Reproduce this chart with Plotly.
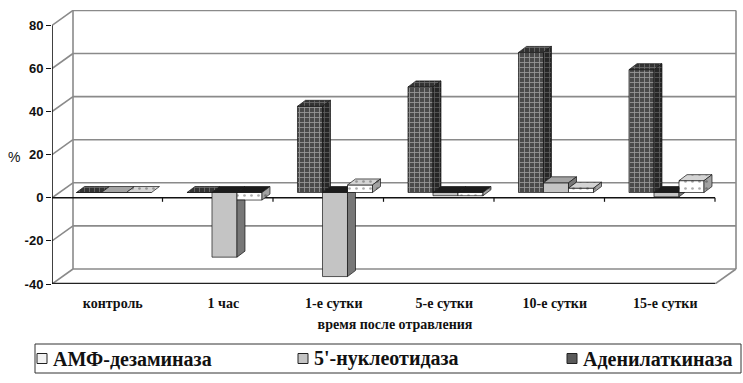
import plotly.graph_objects as go

# ---- data -------------------------------------------------------------
categories = ["контроль", "1 час", "1-е сутки", "5-е сутки", "10-е сутки", "15-е сутки"]
adenylate_kinase = [0, 0, 40, 49, 65, 57]
nucleotidase_5 = [0, -30, -39, -1.5, 4.5, -2]
amp_deaminase = [0, -3.5, 3.5, -1.5, 2, 5.5]
y_ticks = [-40, -20, 0, 20, 40, 60, 80]
series_names = ["Аденилаткиназа", "5'-нуклеотидаза", "АМФ-дезаминаза"]
series_values = [adenylate_kinase, nucleotidase_5, amp_deaminase]

SERIF = "Liberation Serif, Times New Roman, Times, serif"
SANS = "Liberation Sans, Arial, Helvetica, sans-serif"

# ---- pseudo-3D geometry (axis units) -----------------------------------
N = len(categories)
PX_PER_CAT = 110.5
PX_PER_UNIT = 2.155
WALL_DX = 21 / PX_PER_CAT          # depth of the back wall
WALL_DY = 15 / PX_PER_UNIT
BAR_W = 25 / PX_PER_CAT            # front-face width of one column
BAR_SHIFT = 0.061                  # columns sit part way into the depth
BAR_BASE = 5.3 / PX_PER_UNIT
BAR_DX = 8 / PX_PER_CAT            # column depth
BAR_DY = 6 / PX_PER_UNIT
SLOPE = BAR_DY / BAR_DX

Y_MIN, Y_MAX = y_ticks[0], y_ticks[-1]

# plot area in pixels
ML, MR, MT, MB = 52, 5, 10, 99
W_FIG, H_FIG = 743, 383
PLOT_W = W_FIG - ML - MR
PLOT_H = H_FIG - MT - MB
X_RANGE = [0, PLOT_W / PX_PER_CAT]
Y_RANGE = [Y_MIN, Y_MIN + PLOT_H / PX_PER_UNIT]


def px_to_paper(px, py):
    return (px - ML) / PLOT_W, (H_FIG - MB - py) / PLOT_H


# ---- styles -------------------------------------------------------------
OUTLINE = "#151515"
NEG_TOP = "#1c1c1c"
styles = [
    dict(  # adenylate kinase: dark checkered
        front=dict(shape="+", bgcolor="#4a4a4a", fgcolor="#e2e2e2", size=5, solidity=0.32),
        top=dict(shape="+", bgcolor="#333333", fgcolor="#a8a8a8", size=5, solidity=0.3),
        side=dict(shape="+", bgcolor="#262626", fgcolor="#909090", size=5, solidity=0.3),
    ),
    dict(  # 5'-nucleotidase: plain grey
        front=dict(shape="", bgcolor="#c4c4c4"),
        top=dict(shape="", bgcolor="#a4a4a4"),
        side=dict(shape="", bgcolor="#777777"),
    ),
    dict(  # AMP deaminase: white with dots
        front=dict(shape=".", bgcolor="#ffffff", fgcolor="#5a5a5a", size=7, solidity=0.12),
        top=dict(shape=".", bgcolor="#d4d4d4", fgcolor="#555555", size=7, solidity=0.12),
        side=dict(shape=".", bgcolor="#a2a2a2", fgcolor="#444444", size=7, solidity=0.12),
    ),
]

fig = go.Figure()

# front faces of the columns
for k, (name, vals) in enumerate(zip(series_names, series_values)):
    st = styles[k]["front"]
    xs = [i + 0.5 + BAR_SHIFT + (k - 1) * BAR_W for i in range(N)]
    fig.add_trace(go.Bar(
        x=xs, y=vals, base=BAR_BASE, width=BAR_W, name=name,
        marker=dict(
            color=st["bgcolor"],
            line=dict(color=OUTLINE, width=0.7),
            pattern=dict(shape=st["shape"], bgcolor=st["bgcolor"],
                         fgcolor=st.get("fgcolor", st["bgcolor"]),
                         size=st.get("size", 8), solidity=st.get("solidity", 0.3)),
        ),
        showlegend=False, hoverinfo="skip",
    ))


def face(points, st, color=None):
    xs = [p[0] for p in points] + [points[0][0]]
    ys = [p[1] for p in points] + [points[0][1]]
    pat = None
    if color is not None:
        fc = color
    else:
        fc = st["bgcolor"]
        if st["shape"]:
            pat = dict(shape=st["shape"], bgcolor=st["bgcolor"], fgcolor=st["fgcolor"],
                       size=st["size"], solidity=st["solidity"])
    tr = go.Scatter(x=xs, y=ys, mode="lines", fill="toself", fillcolor=fc,
                    line=dict(color=OUTLINE, width=0.7),
                    showlegend=False, hoverinfo="skip")
    if pat:
        tr.fillpattern = pat
    fig.add_trace(tr)


# top and side faces, clipped where the next column hides them
for i in range(N):
    vals = [s[i] for s in series_values]
    lo = [BAR_BASE + min(v, 0) for v in vals]
    hi = [BAR_BASE + max(v, 0) for v in vals]
    for k in range(3):
        x0 = i + 0.5 + BAR_SHIFT + (k - 1.5) * BAR_W
        x1 = x0 + BAR_W
        # top face
        c = hi[k]
        if k < 2 and hi[k + 1] > hi[k]:
            c = min(hi[k + 1], hi[k] + BAR_DY)
        top = [(x0, hi[k]), (x1, hi[k]), (x1, c),
               (x1 + (hi[k] + BAR_DY - c) / SLOPE, hi[k] + BAR_DY),
               (x0 + BAR_DX, hi[k] + BAR_DY)]
        if vals[k] < 0:
            face(top, None, color=NEG_TOP)
        else:
            face(top, styles[k]["top"])
        # side face
        if hi[k] - lo[k] <= 1e-9:
            continue
        st = styles[k]["side"]
        if k == 2:
            face([(x1, lo[k]), (x1, hi[k]), (x1 + BAR_DX, hi[k] + BAR_DY),
                  (x1 + BAR_DX, lo[k] + BAR_DY)], st)
            continue
        if hi[k] > hi[k + 1]:
            c2 = max(hi[k + 1], lo[k])
            face([(x1, c2), (x1, hi[k]), (x1 + BAR_DX, hi[k] + BAR_DY),
                  (x1 + BAR_DX, c2 + BAR_DY)], st)
        if lo[k] < lo[k + 1]:
            c3 = min(lo[k + 1], hi[k])
            if c3 - lo[k] >= BAR_DY:
                face([(x1, lo[k]), (x1, c3), (x1 + BAR_DX, c3),
                      (x1 + BAR_DX, lo[k] + BAR_DY)], st)
            else:
                face([(x1, lo[k]), (x1, c3),
                      (x1 + (c3 - lo[k]) / SLOPE, c3)], st)

# ---- walls, gridlines and axis lines --------------------------------------
shapes = []
GRID = dict(color="#8a8a8a", width=1.6)
for v in y_ticks:
    shapes.append(dict(type="line", layer="below", x0=WALL_DX, x1=N + WALL_DX,
                       y0=v + WALL_DY, y1=v + WALL_DY, line=GRID))
    shapes.append(dict(type="line", layer="below", x0=0, x1=WALL_DX,
                       y0=v, y1=v + WALL_DY, line=GRID))
shapes.append(dict(type="line", layer="below", x0=WALL_DX, x1=WALL_DX,
                   y0=Y_MIN + WALL_DY, y1=Y_MAX + WALL_DY, line=GRID))
shapes.append(dict(type="line", layer="below", x0=N + WALL_DX, x1=N + WALL_DX,
                   y0=Y_MIN + WALL_DY, y1=Y_MAX + WALL_DY, line=GRID))
shapes.append(dict(type="line", layer="below", x0=N, x1=N + WALL_DX,
                   y0=Y_MIN, y1=Y_MIN + WALL_DY, line=GRID))
# front axis lines
AX = dict(color="#111111", width=1.6)
shapes.append(dict(type="line", layer="below", x0=0, x1=N, y0=0, y1=0, line=AX))
shapes.append(dict(type="line", layer="above", x0=0, x1=N, y0=Y_MIN, y1=Y_MIN,
                   line=dict(color="#222222", width=2.4)))
shapes.append(dict(type="line", layer="above", x0=0, x1=0, y0=Y_MIN, y1=Y_MAX, line=AX))
tick_len = 4 / PX_PER_UNIT
for i in range(1, N + 1):
    for yb in (0, Y_MIN):
        shapes.append(dict(type="line", layer="below", x0=i, x1=i, y0=yb,
                           y1=yb - tick_len, line=dict(color="#111111", width=1.2)))

# ---- legend box -----------------------------------------------------------
legend_items = [("АМФ-дезаминаза", 2, 42), ("5'-нуклеотидаза", 1, 303), ("Аденилаткиназа", 0, 572)]
LEG_TOP, LEG_BOT = 344, 373
bx0, by0 = px_to_paper(35, LEG_BOT)
bx1, by1 = px_to_paper(741, LEG_TOP)
shapes.append(dict(type="rect", xref="paper", yref="paper", x0=bx0, y0=by0, x1=bx1, y1=by1,
                   line=dict(color="#333333", width=1), fillcolor="rgba(0,0,0,0)"))
swatch_colors = ["#5a5a5a", "#c4c4c4", "#f2f2f2"]
annotations = []
ymid = (LEG_TOP + LEG_BOT) / 2
for label, k, sx in legend_items:
    ax0, ay0 = px_to_paper(sx - 5, ymid + 5)
    ax1, ay1 = px_to_paper(sx + 5, ymid - 5)
    shapes.append(dict(type="rect", xref="paper", yref="paper", x0=ax0, y0=ay0, x1=ax1, y1=ay1,
                       line=dict(color="#222222", width=1), fillcolor=swatch_colors[k]))
    tx, ty = px_to_paper(sx + 9, ymid)
    annotations.append(dict(text=f"<b>{label}</b>", xref="paper", yref="paper", x=tx, y=ty,
                            xanchor="left", yanchor="middle", showarrow=False,
                            font=dict(family=SERIF, size=20, color="#111111")))

# "%" label beside the value axis
px_, py_ = px_to_paper(14, 157)
annotations.append(dict(text="%", xref="paper", yref="paper", x=px_, y=py_, showarrow=False,
                        xanchor="center", yanchor="middle",
                        font=dict(family=SANS, size=14, color="#111111")))

fig.update_layout(
    width=W_FIG, height=H_FIG,
    margin=dict(l=ML, r=MR, t=MT, b=MB),
    paper_bgcolor="white", plot_bgcolor="white",
    barmode="overlay",
    shapes=shapes, annotations=annotations,
    showlegend=False,
    xaxis=dict(
        range=X_RANGE, showgrid=False, zeroline=False, showline=False,
        tickvals=[i + 0.5 + 0.05 for i in range(N)],
        ticktext=[f"<b>{c}</b>" for c in categories], ticks="",
        ticklabelstandoff=9,
        tickfont=dict(family=SERIF, size=14, color="#111111"),
        title=dict(text="<b>время после отравления</b>", standoff=9,
                   font=dict(family=SERIF, size=14, color="#111111")),
        fixedrange=True,
    ),
    yaxis=dict(
        range=Y_RANGE, showgrid=False, zeroline=False, showline=False,
        tickvals=y_ticks, ticktext=[f"<b>{v}</b>" for v in y_ticks],
        ticks="outside", ticklen=5, tickcolor="#111111", tickwidth=1.2,
        tickfont=dict(family=SANS, size=13, color="#111111"),
        fixedrange=True,
    ),
)

fig.write_html("out.html")
